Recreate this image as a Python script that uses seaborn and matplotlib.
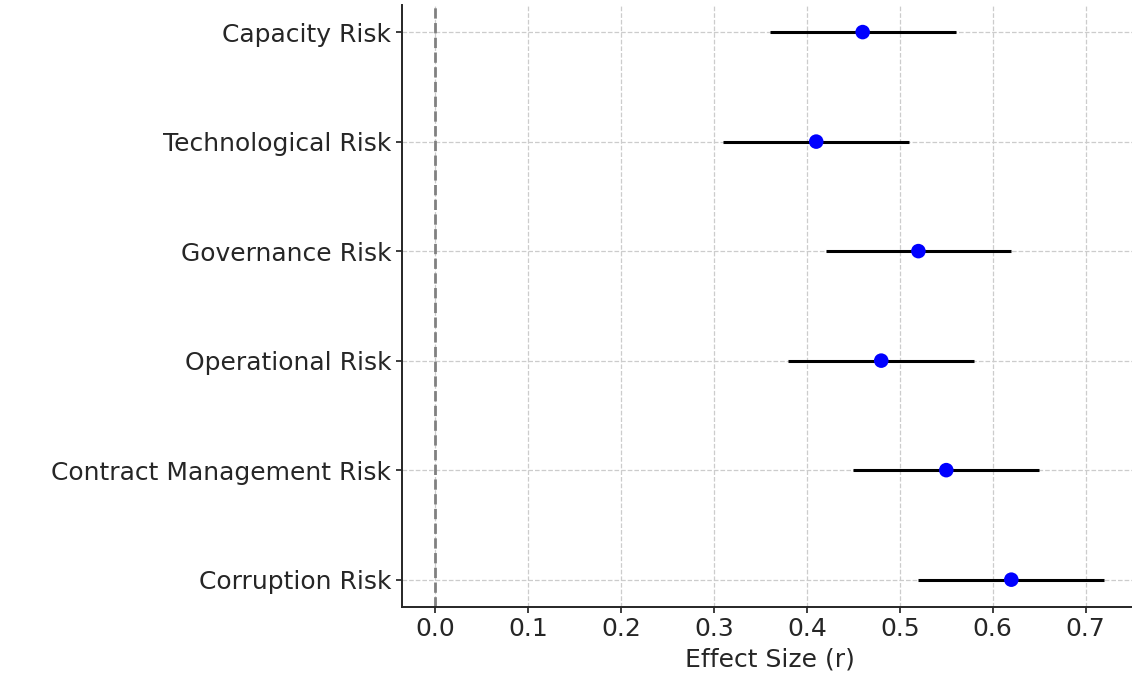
import matplotlib
matplotlib.use("Agg")
import matplotlib.pyplot as plt
import seaborn as sns
import pandas as pd

# Effect sizes per risk factor, with confidence bounds
factors = ["Capacity Risk", "Technological Risk", "Governance Risk",
           "Operational Risk", "Contract Management Risk", "Corruption Risk"]
effect = [0.46, 0.41, 0.52, 0.48, 0.55, 0.62]
ci_low = [0.36, 0.31, 0.42, 0.38, 0.45, 0.52]
ci_high = [0.56, 0.51, 0.62, 0.58, 0.65, 0.72]

df = pd.DataFrame({"factor": factors, "effect": effect,
                   "low": ci_low, "high": ci_high})

sns.set_theme(style="ticks")
plt.rcParams["font.family"] = ["DejaVu Sans"]

fig = plt.figure(figsize=(11.32, 6.73), dpi=100)
ax = fig.add_axes([0.355, 0.098, 0.650, 0.895])

# confidence intervals
ax.hlines(y=df["factor"], xmin=df["low"], xmax=df["high"],
          color="black", linewidth=2.2, zorder=2)
sns.scatterplot(data=df, x="effect", y="factor", ax=ax, color="blue",
                s=110, edgecolor="none", zorder=3)

ax.axvline(0, color="gray", linestyle="--", linewidth=2, zorder=1)
if not ax.yaxis_inverted():
    ax.invert_yaxis()

ax.grid(True, linestyle="--", color="#cccccc", linewidth=0.9)
ax.set_axisbelow(True)
ax.set_xlabel("Effect Size (r)", fontsize=18)
ax.set_ylabel("")
ax.tick_params(axis="both", labelsize=18, length=4, color="#262626")
for side in ["left", "bottom"]:
    ax.spines[side].set_color("#262626")
    ax.spines[side].set_linewidth(1.4)
sns.despine(ax=ax)

fig.savefig("out.png", dpi=100)
